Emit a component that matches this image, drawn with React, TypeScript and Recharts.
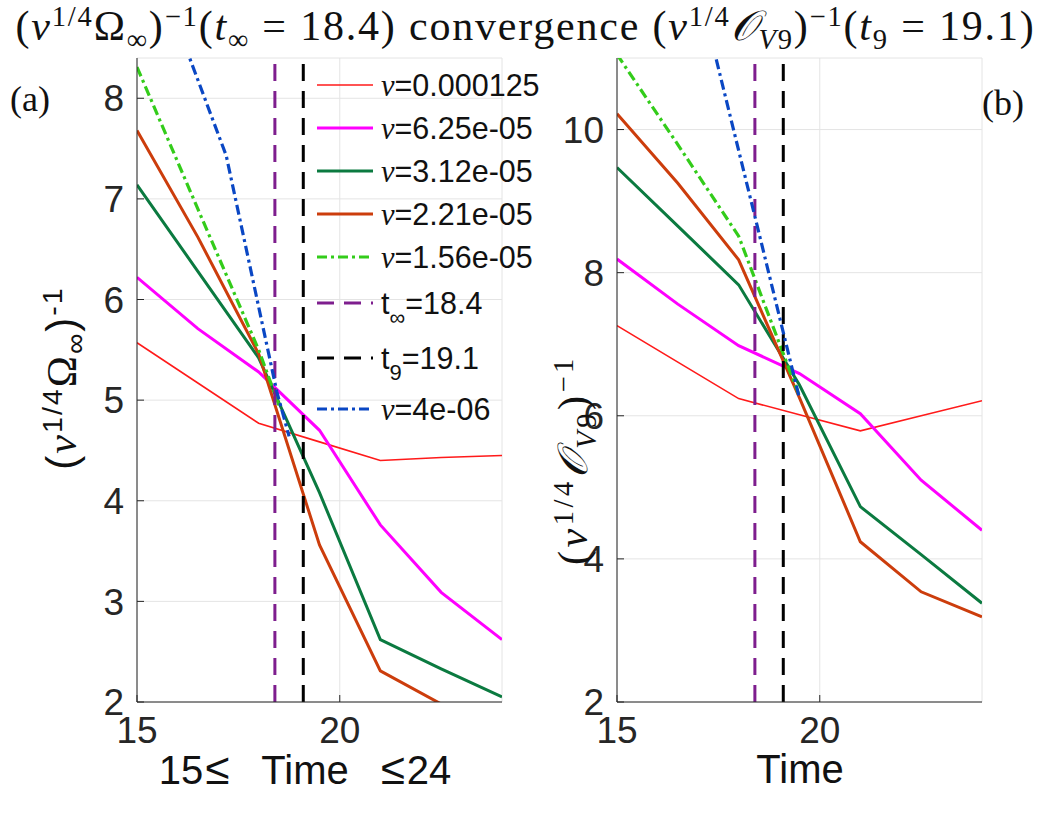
import React from 'react';
import { LineChart, Line, XAxis, YAxis, CartesianGrid, ReferenceLine } from 'recharts';

const SANS = '"Liberation Sans", Arial, Helvetica, sans-serif';
const SERIF = '"Liberation Serif", "Times New Roman", serif';

// ---------- data ----------
const times = [15, 16.5, 18, 19.5, 21, 22.5, 24];

// panel (a): (nu^{1/4} Omega_inf)^{-1}
const leftNu125 = [5.57, 5.17, 4.77, 4.585, 4.4, 4.43, 4.45];
const leftNu625 = [6.22, 5.71, 5.28, 4.7, 3.76, 3.09, 2.62];
const leftNu312 = [7.14, 6.28, 5.42, 4.08, 2.62, 2.33, 2.05];
const leftNu221 = [7.68, 6.62, 5.46, 3.56, 2.31, 1.98, 1.75];
const leftNu156Times = [15, 16.5, 18, 18.5];
const leftNu156 = [8.31, 6.9, 5.5, 4.95];
const leftNu4Times = [16.0, 17.2, 18.45, 18.75];
const leftNu4 = [8.72, 7.43, 5.08, 4.64];

// panel (b): (nu^{1/4} O_V9)^{-1}
const rightNu125 = [7.26, 6.75, 6.24, 6.015, 5.79, 6.0, 6.21];
const rightNu625 = [8.19, 7.56, 6.98, 6.59, 6.03, 5.1, 4.4];
const rightNu312 = [9.47, 8.65, 7.83, 6.43, 4.73, 4.06, 3.38];
const rightNu221 = [10.22, 9.25, 8.18, 6.25, 4.24, 3.54, 3.19];
const rightNu156Times = [15, 16.5, 18, 19.5];
const rightNu156 = [11.05, 9.79, 8.51, 6.27];
const rightNu4Times = [17.2, 18.45, 19.5];
const rightNu4 = [11.55, 8.67, 6.24];

const tInf = 18.4;
const t9 = 19.1;

const xTicks = [15, 20];
const leftYTicks = [2, 3, 4, 5, 6, 7, 8];
const rightYTicks = [2, 4, 6, 8, 10];
const leftYDomain = [2, 8.4];
const rightYDomain = [2, 11];
const xDomain = [15, 24];

const nuLabels = ['0.000125', '6.25e-05', '3.12e-05', '2.21e-05', '1.56e-05', '4e-06'];

// ---------- styles ----------
const seriesStyle = [
  { color: '#ff1a1a', width: 1.6, dash: undefined },
  { color: '#ff00ff', width: 3, dash: undefined },
  { color: '#0b7a40', width: 3, dash: undefined },
  { color: '#cc3d0c', width: 3, dash: undefined },
  { color: '#33cc1a', width: 3.2, dash: '10 4 3 4' },
  { color: '#0a47c4', width: 3.2, dash: '10 4 3 4' },
];
const purple = '#7e1e8e';
const refDash = '17 10';

const pts = (ts: number[], vs: number[]) => ts.map((t, i) => ({ t, v: vs[i] }));

const leftSeries = [
  pts(times, leftNu125),
  pts(times, leftNu625),
  pts(times, leftNu312),
  pts(times, leftNu221),
  pts(leftNu156Times, leftNu156),
  pts(leftNu4Times, leftNu4),
];
const rightSeries = [
  pts(times, rightNu125),
  pts(times, rightNu625),
  pts(times, rightNu312),
  pts(times, rightNu221),
  pts(rightNu156Times, rightNu156),
  pts(rightNu4Times, rightNu4),
];

const tickStyle = { fontSize: 37, fill: '#262626', fontFamily: SANS };

function Panel({ left, series, yDomain, yTicks }: any) {
  const line = (i: number) => (
    <Line
      key={i}
      data={series[i]}
      dataKey="v"
      type="linear"
      stroke={seriesStyle[i].color}
      strokeWidth={seriesStyle[i].width}
      strokeDasharray={seriesStyle[i].dash}
      dot={false}
      activeDot={false}
      isAnimationActive={false}
    />
  );
  return (
    <div style={{ position: 'absolute', left, top: 0 }}>
      <LineChart width={540} height={790} margin={{ top: 58, right: 38, bottom: 8, left: 0 }}>
        <CartesianGrid stroke="#e4e4e4" strokeWidth={1} />
        <XAxis
          type="number"
          dataKey="t"
          domain={xDomain}
          ticks={xTicks}
          allowDataOverflow
          height={80}
          tickSize={-7}
          tickMargin={22}
          tick={tickStyle}
          stroke="#262626"
        />
        <YAxis
          type="number"
          domain={yDomain}
          ticks={yTicks}
          allowDataOverflow
          width={137}
          tickSize={-7}
          tickMargin={20}
          tick={tickStyle}
          stroke="#262626"
        />
        {[0, 1, 2, 3, 4].map(line)}
        <ReferenceLine x={tInf} stroke={purple} strokeWidth={3} strokeDasharray={refDash} />
        <ReferenceLine x={t9} stroke="#000" strokeWidth={3} strokeDasharray={refDash} />
        {line(5)}
      </LineChart>
    </div>
  );
}

const Sup = ({ children, f = '0.68em', top = '-0.5em' }: any) => (
  <span style={{ fontSize: f, position: 'relative', top, lineHeight: 1 }}>{children}</span>
);
const Sub = ({ children, f = '0.68em', top = '0.3em' }: any) => (
  <span style={{ fontSize: f, position: 'relative', top, lineHeight: 1 }}>{children}</span>
);
const Nu = () => <span style={{ fontFamily: SERIF, fontStyle: 'italic' }}>ν</span>;

function Legend() {
  const rows = [85, 128, 171, 214, 257, 303, 358, 409];
  const items: any[] = [
    { ...seriesStyle[0], kind: 'nu', label: nuLabels[0] },
    { ...seriesStyle[1], kind: 'nu', label: nuLabels[1] },
    { ...seriesStyle[2], kind: 'nu', label: nuLabels[2] },
    { ...seriesStyle[3], kind: 'nu', label: nuLabels[3] },
    { ...seriesStyle[4], kind: 'nu', label: nuLabels[4] },
    { color: purple, width: 3, dash: refDash, kind: 't', sub: '∞', label: '=' + tInf },
    { color: '#000', width: 3, dash: refDash, kind: 't', sub: '9', label: '=' + t9 },
    { ...seriesStyle[5], kind: 'nu', label: nuLabels[5] },
  ];
  return (
    <svg width={1051} height={817} style={{ position: 'absolute', left: 0, top: 0, pointerEvents: 'none' }}>
      {items.map((it, i) => (
        <g key={i}>
          <line x1={317} x2={373} y1={rows[i]} y2={rows[i]} stroke={it.color} strokeWidth={it.width} strokeDasharray={it.dash} />
          {it.kind === 'nu' ? (
            <text x={381} y={rows[i] + 11} fontSize={30.5} fontFamily={SANS} fill="#111">
              <tspan fontFamily={SERIF} fontStyle="italic">ν</tspan>
              <tspan>={it.label}</tspan>
            </text>
          ) : (
            <text x={381} y={rows[i] + 11} fontSize={30.5} fontFamily={SANS} fill="#111">
              <tspan>t</tspan>
              <tspan fontSize={22} dy={11}>{it.sub}</tspan>
              <tspan dy={-11}>{it.label}</tspan>
            </text>
          )}
        </g>
      ))}
    </svg>
  );
}

const Le = () => <span style={{ padding: '0 2px', fontSize: '1.1em' }}>≤</span>;
const Gap = () => <span style={{ display: 'inline-block', width: 30 }} />;

export default function App() {
  return (
    <div style={{ position: 'absolute', left: 0, top: 0, width: 1051, height: 817, background: '#fff', overflow: 'hidden' }}>
      <Panel left={0} series={leftSeries} yDomain={leftYDomain} yTicks={leftYTicks} />
      <Panel left={480} series={rightSeries} yDomain={rightYDomain} yTicks={rightYTicks} />
      <Legend />

      {/* title */}
      <div style={{ position: 'absolute', left: 0, top: 3, width: 1051, textAlign: 'center', fontFamily: SERIF, fontSize: 42, letterSpacing: 1.8, lineHeight: '46px', whiteSpace: 'nowrap', color: '#111' }}>
        (<i>ν</i><Sup>1/4</Sup>Ω<Sub>∞</Sub>)<Sup>−1</Sup>(<i>t</i><Sub>∞</Sub> = 18.4) convergence (<i>ν</i><Sup>1/4</Sup><i>𝒪</i><Sub><i>V</i>9</Sub>)<Sup>−1</Sup>(<i>t</i><Sub>9</Sub> = 19.1)
      </div>

      {/* panel tags */}
      <div style={{ position: 'absolute', left: 10, top: 78, fontFamily: SERIF, fontSize: 36, color: '#111' }}>(a)</div>
      <div style={{ position: 'absolute', left: 982, top: 82, fontFamily: SERIF, fontSize: 36, color: '#111' }}>(b)</div>

      {/* y labels */}
      <div style={{ position: 'absolute', left: 62, top: 378, transform: 'translate(-50%, -50%) rotate(-90deg)', fontFamily: SANS, fontSize: 42, letterSpacing: 2, whiteSpace: 'nowrap', color: '#111' }}>
        (<Nu /><Sup>1/4</Sup><span style={{ fontFamily: SERIF }}>Ω</span><Sub>∞</Sub>)<Sup>-1</Sup>
      </div>
      <div style={{ position: 'absolute', left: 573, top: 460, transform: 'translate(-50%, -50%) rotate(-90deg)', fontFamily: SERIF, fontSize: 42, letterSpacing: 3.5, whiteSpace: 'nowrap', color: '#111' }}>
        (<i>ν</i><Sup>1/4</Sup><i>𝒪</i><Sub><i>V</i>9</Sub>)<Sup>−1</Sup>
      </div>

      {/* x labels */}
      <div style={{ position: 'absolute', left: 305, top: 769, transform: 'translate(-50%, -50%)', fontFamily: SANS, fontSize: 40, lineHeight: '28px', whiteSpace: 'nowrap', color: '#111' }}>
        15<Le /><Gap />Time<Gap /><Le />24
      </div>
      <div style={{ position: 'absolute', left: 800, top: 769, transform: 'translate(-50%, -50%)', fontFamily: SANS, fontSize: 40, lineHeight: '28px', whiteSpace: 'nowrap', color: '#111' }}>
        Time
      </div>
    </div>
  );
}
